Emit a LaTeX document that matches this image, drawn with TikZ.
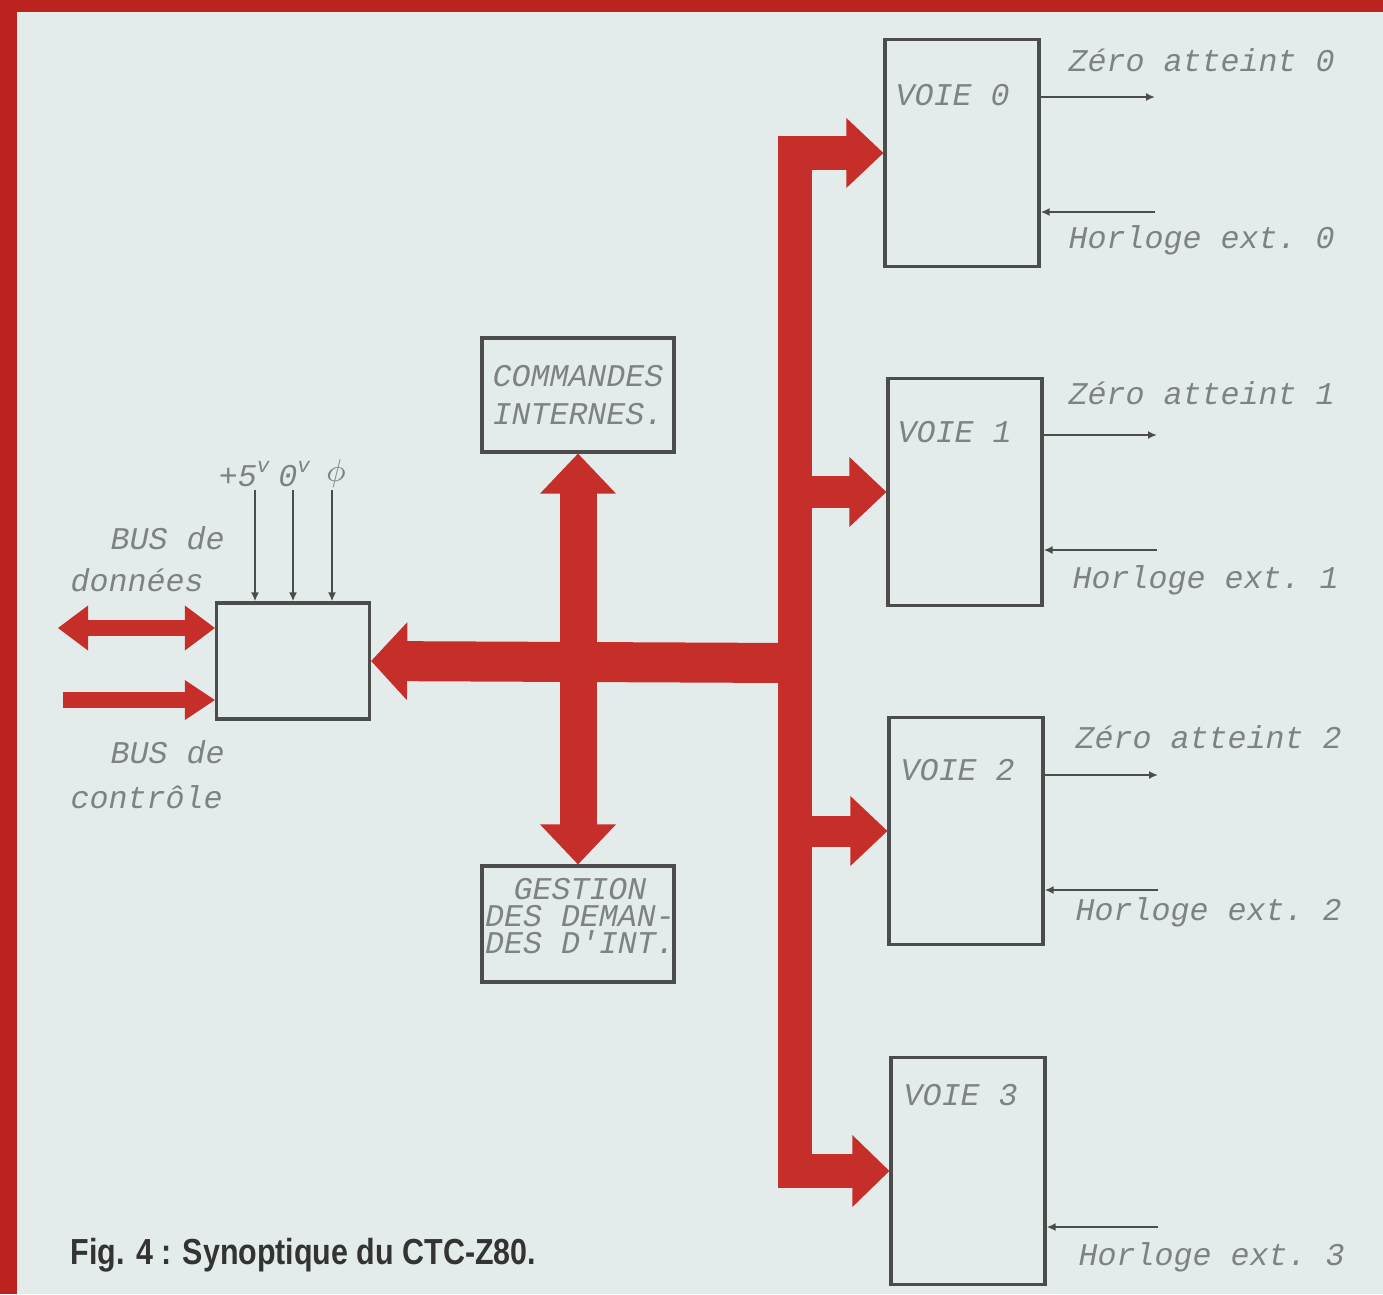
\documentclass[tikz,border=0pt]{standalone}
\usepackage{fontspec}
\setmainfont{Liberation Sans}
\setmonofont{Liberation Mono}
\newfontfamily\capfont[FakeStretch=0.84]{Liberation Sans}
\usetikzlibrary{arrows.meta, positioning, calc}
\definecolor{fond}{HTML}{E4ECEB}
\definecolor{cadre}{HTML}{BC231E}
\definecolor{rouge}{HTML}{C62F29}
\definecolor{trait}{HTML}{4C4C4C}
\definecolor{encre}{HTML}{7E8282}

\begin{document}
\begin{tikzpicture}[
    x=0.01cm, y=-0.01cm,
    blk/.style={draw=trait, line width=0.9pt, inner sep=0pt},
    voie/.style={blk, minimum width=1.54cm, minimum height=2.27cm},
    txt/.style={font=\ttfamily\itshape\fontsize{9}{11}\selectfont, text=encre, inner sep=0pt},
    sig/.style={draw=trait, line width=0.7pt, -{Latex[length=0.9mm, width=0.8mm]}},
    bus/.style={draw=rouge, line width=0.31cm, line cap=round, -{Triangle[length=0.37cm, width=0.70cm, line width=0pt]}},
    trunk/.style={draw=rouge, line width=0.34cm, line cap=round, {Triangle[length=0.37cm, width=0.70cm, line width=0pt]}-{Triangle[length=0.37cm, width=0.72cm, line width=0pt]}},
    fatbus/.style={draw=rouge, line width=0.40cm, line cap=round, -{Triangle[length=0.36cm, width=0.78cm, line width=0pt]}},
    intbus/.style={draw=rouge, line width=0.37cm, line cap=round, {Triangle[length=0.40cm, width=0.76cm, line width=0pt]}-{Triangle[length=0.40cm, width=0.76cm, line width=0pt]}},
    thinbus/.style={draw=rouge, line width=0.16cm},
    legende/.style={font=\capfont\bfseries\fontsize{10.3}{12}\selectfont, text=black!80, inner sep=0pt}
]
    \useasboundingbox (0,0) rectangle (1383,1294);
    \fill[fond] (0,0) rectangle (1383,1294);
    \fill[cadre] (0,0) rectangle (17,1294);
    \fill[cadre] (0,0) rectangle (1383,12);

    % blocs
    \node[blk, minimum width=1.53cm, minimum height=1.16cm] (iface) at (293,661) {};
    \node[blk, minimum width=1.92cm, minimum height=1.14cm, txt, align=center] (ci) at (578,395)
        {COMMANDES\\INTERNES.};
    \node[blk, minimum width=1.92cm, minimum height=1.16cm] (gdi) at (578,924) {};
    \node[voie] (v0) at (962,153) {};
    \node[voie] (v1) at (965,492) {};
    \node[voie] (v2) at (966,831) {};
    \node[voie] (v3) at (968,1171) {};

    % textes des blocs
    \node[txt, align=center, font=\ttfamily\itshape\fontsize{9}{7.6}\selectfont] at (580,916)
        {GESTION\\DES DEMAN-\\DES D'INT.};
    \node[txt, anchor=west] at (895,95) {VOIE 0};
    \node[txt, anchor=west] at (897,432) {VOIE 1};
    \node[txt, anchor=west] at (900,770) {VOIE 2};
    \node[txt, anchor=west] at (903,1095) {VOIE 3};

    % bus internes
    \draw[fatbus] (790,663) -- (iface.east);
    \draw[trunk] (v0.west) -- (795,153) -- (795,1171) -- (v3.west);
    \draw[bus] (795,492) -- (v1.west);
    \draw[bus] (795,831) -- (v2.west);
    \draw[intbus] (ci.south) -- (ci.south |- gdi.north);

    % bus externes
    \coordinate (dd) at (58,628);
    \coordinate (cc) at (63,700);
    \draw[thinbus, line cap=round, {Triangle[length=0.30cm, width=0.45cm, line width=0pt]}-{Triangle[length=0.30cm, width=0.45cm, line width=0pt]}]
        (dd) -- (iface.west |- dd);
    \draw[thinbus, -{Triangle[length=0.30cm, width=0.40cm, line width=0pt]}] (cc) -- (iface.west |- cc);
    \node[txt, anchor=west] at (110,538) {BUS de};
    \node[txt, anchor=west] at (70,580) {données};
    \node[txt, anchor=west] at (110,752) {BUS de};
    \node[txt, anchor=west] at (70,797) {contrôle};

    % alimentations
    \coordinate (s5) at (255,490);
    \coordinate (s0) at (293,490);
    \coordinate (sp) at (332,490);
    \draw[sig] (s5) -- (s5 |- iface.north);
    \draw[sig] (s0) -- (s0 |- iface.north);
    \draw[sig] (sp) -- (sp |- iface.north);
    \node[txt] at (245,474) {+5\textsuperscript{v}};
    \node[txt] at (295,474) {0\textsuperscript{v}};
    \node[txt] at (336,474) {$\phi$};

    % sorties des voies
    \coordinate (z0) at (1155,97);
    \coordinate (z1) at (1157,435);
    \coordinate (z2) at (1158,775);
    \coordinate (h0) at (1155,212);
    \coordinate (h1) at (1157,550);
    \coordinate (h2) at (1158,890);
    \coordinate (h3) at (1158,1227);
    \draw[sig] (v0.east |- z0) -- (z0);
    \draw[sig] (v1.east |- z1) -- (z1);
    \draw[sig] (v2.east |- z2) -- (z2);
    \draw[sig] (h0) -- (v0.east |- h0);
    \draw[sig] (h1) -- (v1.east |- h1);
    \draw[sig] (h2) -- (v2.east |- h2);
    \draw[sig] (h3) -- (v3.east |- h3);

    \node[txt, anchor=west] at (1068,60) {Zéro atteint 0};
    \node[txt, anchor=west] at (1068,240) {Horloge ext. 0};
    \node[txt, anchor=west] at (1068,393) {Zéro atteint 1};
    \node[txt, anchor=west] at (1072,580) {Horloge ext. 1};
    \node[txt, anchor=west] at (1075,737) {Zéro atteint 2};
    \node[txt, anchor=west] at (1075,912) {Horloge ext. 2};
    \node[txt, anchor=west] at (1078,1257) {Horloge ext. 3};

    % légende
    \node[legende, anchor=west] at (70,1255) {Fig. 4 : Synoptique du CTC-Z80.};
\end{tikzpicture}
\end{document}
